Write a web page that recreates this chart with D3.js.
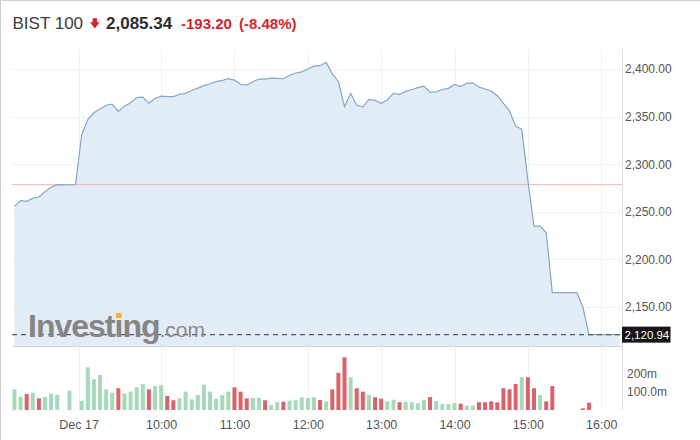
<!DOCTYPE html>
<html><head><meta charset="utf-8">
<script src="https://cdn.jsdelivr.net/npm/d3@7"></script>
<style>
html,body{margin:0;padding:0;background:#fff;}
svg{display:block;font-family:"Liberation Sans",Arial,sans-serif;}
</style>
</head><body>
<svg id="c" width="700" height="440"></svg>
<script>
// ---------- data ----------
const title = "BIST 100";
const lastValue = "2,085.34";
const change = "-193.20";
const changePct = "(-8.48%)";
const prevClose = 2278.54;
const lastPrice = 2120.94;

const prevDay = "2021-12-16";
const prevDayTimes = ["16:15","16:20","16:25","16:30","16:35","16:40","16:45","16:50","16:55","17:00","17:05"];
const prevDayPrice = [2256,2261.7,2261,2264.3,2265.5,2271,2276,2278.2,2278.3,2278.4,2278.54];
const prevDayVolume = [115,74,89,96,65,72,91,85,null,107,null];
const prevDayDir = ["u","u","d","u","d","u","u","u",null,"u",null];

const day = "2021-12-17";
const dayTimes = ["08:55","09:00","09:05","09:10","09:15","09:20","09:25","09:30","09:35","09:40","09:45","09:50","09:55",
 "10:00","10:05","10:10","10:15","10:20","10:25","10:30","10:35","10:40","10:45","10:50","10:55",
 "11:00","11:05","11:10","11:15","11:20","11:25","11:30","11:35","11:40","11:45","11:50","11:55",
 "12:00","12:05","12:10","12:15","12:20","12:25","12:30","12:35","12:40","12:45","12:50","12:55",
 "13:00","13:05","13:10","13:15","13:20","13:25","13:30","13:35","13:40","13:45","13:50","13:55",
 "14:00","14:05","14:10","14:15","14:20","14:25","14:30","14:35","14:40","14:45","14:50","14:55",
 "15:00","15:05","15:10","15:15","15:20","15:25","15:30","15:35","15:40","15:45","15:50","15:55",
 "16:00","16:05","16:10","16:15"];
const dayPrice = [2331,2347,2354,2358,2362,2363,2355.5,2361,2364.5,2370,2370.5,2364,2369,
 2371.5,2371,2371,2373.5,2374.5,2377.5,2380,2382.5,2384.5,2386.7,2388,2390,
 2388.4,2384,2383.2,2386.7,2389.5,2389.5,2390.5,2390.2,2389.8,2393.2,2395.8,2397,
 2400,2403,2403.5,2407,2395,2387,2360.5,2374.5,2362,2360,2368,2367,
 2364,2367.5,2374.5,2373.5,2376.5,2378.5,2380.5,2382,2375.5,2376,2378.5,2379.7,
 2383.8,2381.5,2385,2385.5,2381,2379,2377,2372,2364,2356,2340,2336.7,
 2283,2235,2235,2228,2165,2165,2165,2165,2165,2150,2120.94,2120.94,
 2120.94,2120.94,2120.94,2120.94];
const dayVolume = [50,237,171,194,115,96,121,91,102,126,144,115,133,
 137,78,54,65,102,59,83,141,102,63,83,102,
 126,102,65,67,68,54,28,44,46,52,54,71,
 68,71,56,48,115,207,293,182,121,102,83,71,
 63,48,57,43,46,43,37,54,72,50,33,33,
 39,35,24,24,43,43,48,43,121,115,144,182,
 182,121,83,48,133,null,null,null,null,9,41,null,
 null,null,null,null];
const dayDir = ["u","u","u","u","u","u","d","u","u","u","u","d","u",
 "u","d","d","u","u","u","u","u","u","u","u","u",
 "d","d","d","u","u","d","u","u","d","u","u","u",
 "u","u","d","u","d","d","d","u","d","d","u","d",
 "d","u","u","d","u","u","u","u","d","u","u","u",
 "u","d","u","u","d","d","d","d","d","d","d","u",
 "d","d","u","d","d",null,null,null,null,"d","d",null,
 null,null,null,null];

const priceTicks = [2150,2200,2250,2300,2350,2400];
const volumeTicks = [100,200];
const volumeTickLabels = ["100.0m","200m"];
const timeTicks = ["2021-12-17 00:00:00","2021-12-17 10:00:00","2021-12-17 11:00:00","2021-12-17 12:00:00",
 "2021-12-17 13:00:00","2021-12-17 14:00:00","2021-12-17 15:00:00","2021-12-17 16:00:00"];
const timeTickLabels = ["Dec 17","10:00","11:00","12:00","13:00","14:00","15:00","16:00"];
// visible window (session gap compressed)
const windowEdges = ["2021-12-16 16:13:00","2021-12-16 17:07:30","2021-12-17 08:52:30","2021-12-17 16:17:00"];

// ---------- layout ----------
const L = 12, R = 622, T = 50, PB = 346, VT = 347, VB = 410;
const parse = d3.timeParse("%Y-%m-%d %H:%M:%S");

const pts = prevDayTimes.map((t,i)=>({t:parse(prevDay+" "+t+":00"), p:prevDayPrice[i], v:prevDayVolume[i], d:prevDayDir[i]}))
  .concat(dayTimes.map((t,i)=>({t:parse(day+" "+t+":00"), p:dayPrice[i], v:dayVolume[i], d:dayDir[i]})));

const e = windowEdges.map(parse);
const seg1 = e[1]-e[0], seg2 = e[3]-e[2];
const xb = L + (R-L)*seg1/(seg1+seg2);
const x = d3.scaleTime().domain(e).range([L, xb, xb, R]);
const y = d3.scaleLinear().domain([2109, 2420]).range([PB, T]);
const yv = d3.scaleLinear().domain([0, 350]).range([VB, VT]);

const svg = d3.select("#c");

// page border
svg.append("line").attr("x1",0).attr("x2",700).attr("y1",0.5).attr("y2",0.5).attr("stroke","#cfcfcf");
svg.append("line").attr("x1",0.5).attr("x2",0.5).attr("y1",0).attr("y2",440).attr("stroke","#cfcfcf");

// header
const hdr = svg.append("g");
hdr.append("text").attr("x",12.5).attr("y",29).attr("font-size",17).attr("fill","#3c3c3c").text(title);
hdr.append("path").attr("d","M92.6,18.3 H97 V22.3 H99.6 L94.8,28.4 L90,22.3 H92.6 Z").attr("fill","#d8232a");
hdr.append("text").attr("x",106).attr("y",29).attr("font-size",17).attr("font-weight","bold").attr("fill","#2e2e2e").text(lastValue);
hdr.append("text").attr("x",181).attr("y",29).attr("font-size",15).attr("font-weight","bold").attr("fill","#d3262e").text(change);
hdr.append("text").attr("x",239).attr("y",29).attr("font-size",15).attr("font-weight","bold").attr("fill","#d3262e").text(changePct);

// grid
const tt = timeTicks.map(parse);
svg.append("g").selectAll("line").data(tt).join("line")
  .attr("x1",d=>Math.round(x(d))+0.5).attr("x2",d=>Math.round(x(d))+0.5)
  .attr("y1",T).attr("y2",VB).attr("stroke","#eef1f5");
svg.append("g").selectAll("line").data(priceTicks).join("line")
  .attr("x1",L).attr("x2",R).attr("y1",d=>Math.round(y(d))+0.5).attr("y2",d=>Math.round(y(d))+0.5)
  .attr("stroke","#f1f2f4");

// area + line
svg.append("path").datum(pts)
  .attr("d", d3.area().x(d=>x(d.t)).y0(PB).y1(d=>y(d.p)))
  .attr("fill","#e2ecf6");

// prev close line
svg.append("line").attr("x1",L).attr("x2",R)
  .attr("y1",y(prevClose)).attr("y2",y(prevClose)).attr("stroke","#f0b5b5").attr("stroke-width",1);

svg.append("path").datum(pts)
  .attr("d", d3.line().x(d=>x(d.t)).y(d=>y(d.p)))
  .attr("fill","none").attr("stroke","#82a8cc").attr("stroke-width",1.2);

// last price dashed line
svg.append("line").attr("x1",L).attr("x2",R)
  .attr("y1",y(lastPrice)).attr("y2",y(lastPrice))
  .attr("stroke","#5a5a5a").attr("stroke-width",1.2).attr("stroke-dasharray","5,4");

// watermark
const wm = svg.append("text").attr("x",28).attr("y",337);
wm.append("tspan").attr("font-size",32).attr("font-weight","bold").attr("letter-spacing",-1)
  .attr("fill","#858585").text("Investing");
wm.append("tspan").attr("font-size",21).attr("fill","#8a8a8a").text(".com");
try {
  const ext = wm.node().getExtentOfChar(6);
  svg.append("rect").attr("x",ext.x+ext.width/2-2.5).attr("y",313).attr("width",5.6).attr("height",5)
    .attr("fill","#f2b33d");
} catch(err) {}

// panel separators
svg.append("line").attr("x1",L).attr("x2",R).attr("y1",PB+0.5).attr("y2",PB+0.5).attr("stroke","#cdd5e0");
svg.append("line").attr("x1",R+0.5).attr("x2",R+0.5).attr("y1",T).attr("y2",VB).attr("stroke","#dedede");

// volume bars
svg.append("g").selectAll("rect").data(pts.filter(d=>d.v!=null)).join("rect")
  .attr("x",d=>x(d.t)-2).attr("width",4)
  .attr("y",d=>yv(d.v)).attr("height",d=>VB-yv(d.v))
  .attr("fill",d=>d.d==="d"?"#d9636b":"#a6d9bb");

// price axis
const ay = svg.append("g").attr("transform",`translate(${R},0)`)
  .call(d3.axisRight(y).tickValues(priceTicks).tickFormat(d3.format(",.2f")).tickSize(0).tickPadding(3));
ay.select(".domain").remove();
ay.selectAll("text").attr("font-size",12).attr("fill","#555").attr("font-family","'Liberation Sans',Arial,sans-serif");

// last price label
svg.append("rect").attr("x",R).attr("y",y(lastPrice)-8).attr("width",48.5).attr("height",16).attr("fill","#161616");
svg.append("text").attr("x",R+2.5).attr("y",y(lastPrice)).attr("dy","0.35em").attr("font-size",11.5)
  .attr("fill","#fff").text(d3.format(",.2f")(lastPrice));

// volume axis
const av = svg.append("g").attr("transform",`translate(${R},0)`)
  .call(d3.axisRight(yv).tickValues(volumeTicks).tickFormat((d,i)=>volumeTickLabels[i]).tickSize(0).tickPadding(5));
av.select(".domain").remove();
av.selectAll("text").attr("font-size",12).attr("fill","#555").attr("font-family","'Liberation Sans',Arial,sans-serif");

// time axis
const ax = svg.append("g").attr("transform",`translate(0,${VB})`)
  .call(d3.axisBottom(x).tickValues(tt).tickFormat((d,i)=>timeTickLabels[i]).tickSize(0).tickPadding(10));
ax.select(".domain").remove();
ax.selectAll("text").attr("font-size",12.5).attr("fill","#555").attr("font-family","'Liberation Sans',Arial,sans-serif");
</script>
</body></html>
